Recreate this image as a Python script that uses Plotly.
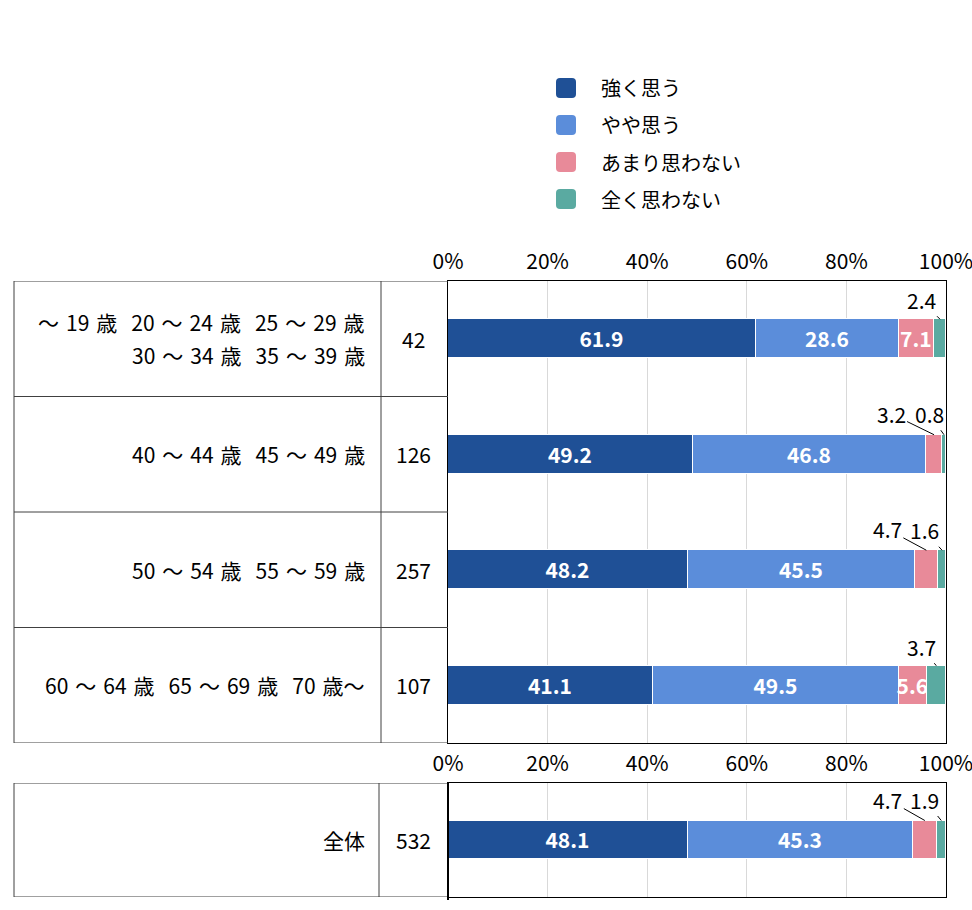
import plotly.graph_objects as go

W, H = 972, 910
FONT = "Noto Sans CJK JP"
SP = "\u2004"  # three-per-em space between tokens

# ---------------- data ----------------
categories = [
    f"～{SP}19{SP}歳{SP}{SP}20{SP}～{SP}24{SP}歳{SP}{SP}25{SP}～{SP}29{SP}歳<br>30{SP}～{SP}34{SP}歳{SP}{SP}35{SP}～{SP}39{SP}歳",
    f"40{SP}～{SP}44{SP}歳{SP}{SP}45{SP}～{SP}49{SP}歳",
    f"50{SP}～{SP}54{SP}歳{SP}{SP}55{SP}～{SP}59{SP}歳",
    f"60{SP}～{SP}64{SP}歳{SP}{SP}65{SP}～{SP}69{SP}歳{SP}{SP}70{SP}歳～",
]
counts = [42, 126, 257, 107]
strong = [61.9, 49.2, 48.2, 41.1]
somewhat = [28.6, 46.8, 45.5, 49.5]
not_much = [7.1, 3.2, 4.7, 5.6]
not_at_all = [2.4, 0.8, 1.6, 3.7]

total_label = "全体"
total_count = 532
total_values = [48.1, 45.3, 4.7, 1.9]

series_names = ["強く思う", "やや思う", "あまり思わない", "全く思わない"]
tick_values = [0, 20, 40, 60, 80, 100]
tick_labels = ["0%", "20%", "40%", "60%", "80%", "100%"]

# ---------------- style ----------------
colors = ["#1F5096", "#5B8DDA", "#E88A99", "#5AAAA1"]
INSIDE_MIN = 5
BAR_W_TOP = 0.338
BAR_W_BOT = 0.342
# pixel offsets (text centre relative to bar top) for outside labels
top_offsets = {(0, 3): (-19, -19), (1, 2): (-43, -21), (1, 3): (-15, -21),
               (2, 2): (-39, -21), (2, 3): (-18, -20), (3, 3): (-15, -19)}
bot_offsets = {(0, 2): (-37, -21), (0, 3): (-17, -21)}


def px(x):
    return x / W


def py(y):
    return 1 - y / H


top_series = [strong, somewhat, not_much, not_at_all]
rows = list(range(len(categories)))

fig = go.Figure()


def fmt(v):
    return f"{v:.1f}"


for s, (name, vals, col) in enumerate(zip(series_names, top_series, colors)):
    fig.add_trace(go.Bar(
        x=vals, y=rows, orientation="h", name=name, width=BAR_W_TOP,
        marker=dict(color=col, line=dict(color="white", width=1.2)),
        text=[fmt(v) if v >= INSIDE_MIN else "" for v in vals],
        textposition="inside", insidetextanchor="middle", textangle=0,
        insidetextfont=dict(color="white", size=21, family=FONT, weight="bold"),
        showlegend=False, hoverinfo="skip", xaxis="x", yaxis="y"))

for s, (name, v, col) in enumerate(zip(series_names, total_values, colors)):
    fig.add_trace(go.Bar(
        x=[v], y=[0], orientation="h", name=name, width=BAR_W_BOT,
        marker=dict(color=col, line=dict(color="white", width=1.2)),
        text=[fmt(v) if v >= INSIDE_MIN else ""],
        textposition="inside", insidetextanchor="middle", textangle=0,
        insidetextfont=dict(color="white", size=21, family=FONT, weight="bold"),
        showlegend=False, hoverinfo="skip", xaxis="x2", yaxis="y2"))

annotations = []
shapes = []

# outside labels with leader lines
for r in rows:
    cum = 0
    for s, vals in enumerate(top_series):
        v = vals[r]
        if v < INSIDE_MIN and (r, s) in top_offsets:
            ax, ay = top_offsets[(r, s)]
            annotations.append(dict(
                x=cum + v / 2, y=r - BAR_W_TOP / 2, xref="x", yref="y",
                text=fmt(v), showarrow=True, arrowhead=0, arrowwidth=1,
                arrowcolor="#000000", ax=ax, ay=ay, standoff=0,
                font=dict(size=21, color="#000000", family=FONT)))
        cum += v

cum = 0
for s, v in enumerate(total_values):
    if v < INSIDE_MIN and (0, s) in bot_offsets:
        ax, ay = bot_offsets[(0, s)]
        annotations.append(dict(
            x=cum + v / 2, y=-BAR_W_BOT / 2, xref="x2", yref="y2",
            text=fmt(v), showarrow=True, arrowhead=0, arrowwidth=1,
            arrowcolor="#000000", ax=ax, ay=ay, standoff=0,
            font=dict(size=21, color="#000000", family=FONT)))
    cum += v

# table text
for r, (lab, n) in enumerate(zip(categories, counts)):
    lines = lab.split("<br>")
    k = len(lines)
    for j, line in enumerate(lines):
        shift = (k - 1) / 2 * 33 - j * 33
        annotations.append(dict(
            x=px(367), y=r, xref="paper", yref="y", text=line,
            xanchor="right", yanchor="middle", showarrow=False, yshift=shift,
            font=dict(size=21, color="#000000", family=FONT)))
    annotations.append(dict(
        x=px(413), y=r, xref="paper", yref="y", text=str(n),
        xanchor="center", yanchor="middle", showarrow=False,
        font=dict(size=21, color="#000000", family=FONT)))

annotations.append(dict(
    x=px(367), y=0, xref="paper", yref="y2", text=total_label,
    xanchor="right", yanchor="middle", showarrow=False,
    font=dict(size=21, color="#000000", family=FONT)))
annotations.append(dict(
    x=px(413), y=0, xref="paper", yref="y2", text=str(total_count),
    xanchor="center", yanchor="middle", showarrow=False,
    font=dict(size=21, color="#000000", family=FONT)))

# table lines (top)
TL = "#404040"
for xv in (14, 381):
    shapes.append(dict(type="line", xref="paper", yref="paper",
                       x0=px(xv), x1=px(xv), y0=py(281), y1=py(743),
                       line=dict(color=TL, width=1)))
for r in range(len(categories) + 1):
    shapes.append(dict(type="line", xref="paper", yref="y",
                       x0=px(14), x1=px(448), y0=r - 0.5, y1=r - 0.5,
                       line=dict(color=TL, width=1)))
# table lines (bottom)
shapes.append(dict(type="line", xref="paper", yref="paper",
                   x0=px(14), x1=px(14), y0=py(783), y1=py(897),
                   line=dict(color=TL, width=1)))
shapes.append(dict(type="line", xref="paper", yref="paper",
                   x0=px(379), x1=px(379), y0=py(783), y1=py(897),
                   line=dict(color="#7f7f7f", width=1.5)))
for yv in (-0.5, 0.5):
    shapes.append(dict(type="line", xref="paper", yref="y2",
                       x0=px(14), x1=px(448), y0=yv, y1=yv,
                       line=dict(color=TL, width=1)))
shapes.append(dict(type="line", xref="paper", yref="paper",
                   x0=px(448), x1=px(448), y0=py(783), y1=py(900),
                   line=dict(color="#000000", width=2)))

# legend (rounded squares + text)
S, RAD = 20, 4
for i, (name, col) in enumerate(zip(series_names, colors)):
    cx, cy = 566, 88 + 37 * i
    x0, x1 = cx - S / 2, cx + S / 2
    y0, y1 = cy - S / 2, cy + S / 2
    path = (f"M {px(x0 + RAD)},{py(y0)} L {px(x1 - RAD)},{py(y0)} "
            f"Q {px(x1)},{py(y0)} {px(x1)},{py(y0 + RAD)} "
            f"L {px(x1)},{py(y1 - RAD)} Q {px(x1)},{py(y1)} {px(x1 - RAD)},{py(y1)} "
            f"L {px(x0 + RAD)},{py(y1)} Q {px(x0)},{py(y1)} {px(x0)},{py(y1 - RAD)} "
            f"L {px(x0)},{py(y0 + RAD)} Q {px(x0)},{py(y0)} {px(x0 + RAD)},{py(y0)} Z")
    shapes.append(dict(type="path", xref="paper", yref="paper", path=path,
                       fillcolor=col, line=dict(width=0)))
    annotations.append(dict(
        x=px(599), y=py(cy), xref="paper", yref="paper", text=name,
        xanchor="left", yanchor="middle", showarrow=False,
        font=dict(size=20, color="#000000", family=FONT)))

axis_x = dict(range=[0, 100], side="top", tickvals=tick_values, ticktext=tick_labels,
              showgrid=True, gridcolor="#D9D9D9", gridwidth=1, zeroline=False,
              showline=True, linecolor="#000000", linewidth=1, mirror=True,
              ticks="", ticklabeloverflow="allow", automargin=False,
              ticklabelstandoff=3,
              tickfont=dict(size=21, color="#000000", family=FONT),
              fixedrange=True)
axis_y = dict(showticklabels=False, showgrid=False, zeroline=False,
              showline=True, linecolor="#000000", linewidth=1, mirror=True,
              automargin=False, fixedrange=True)

fig.update_layout(
    width=W, height=H, margin=dict(l=0, r=0, t=0, b=0, pad=0, autoexpand=False),
    paper_bgcolor="white", plot_bgcolor="white",
    barmode="stack", bargap=0,
    font=dict(family=FONT, color="#000000"),
    uniformtext=dict(minsize=21, mode="show"),
    xaxis=dict(domain=[px(448), px(946)], anchor="y", **axis_x),
    yaxis=dict(domain=[py(743), py(281)], anchor="x",
               range=[len(categories) - 0.5, -0.5], **axis_y),
    xaxis2=dict(domain=[px(448), px(946)], anchor="y2", **axis_x),
    yaxis2=dict(domain=[py(897), py(783)], anchor="x2", range=[0.5, -0.5], **axis_y),
    annotations=annotations, shapes=shapes, showlegend=False,
)

fig.write_html("out.html", config={"displayModeBar": False},
               post_script="document.body.style.margin='0';")
